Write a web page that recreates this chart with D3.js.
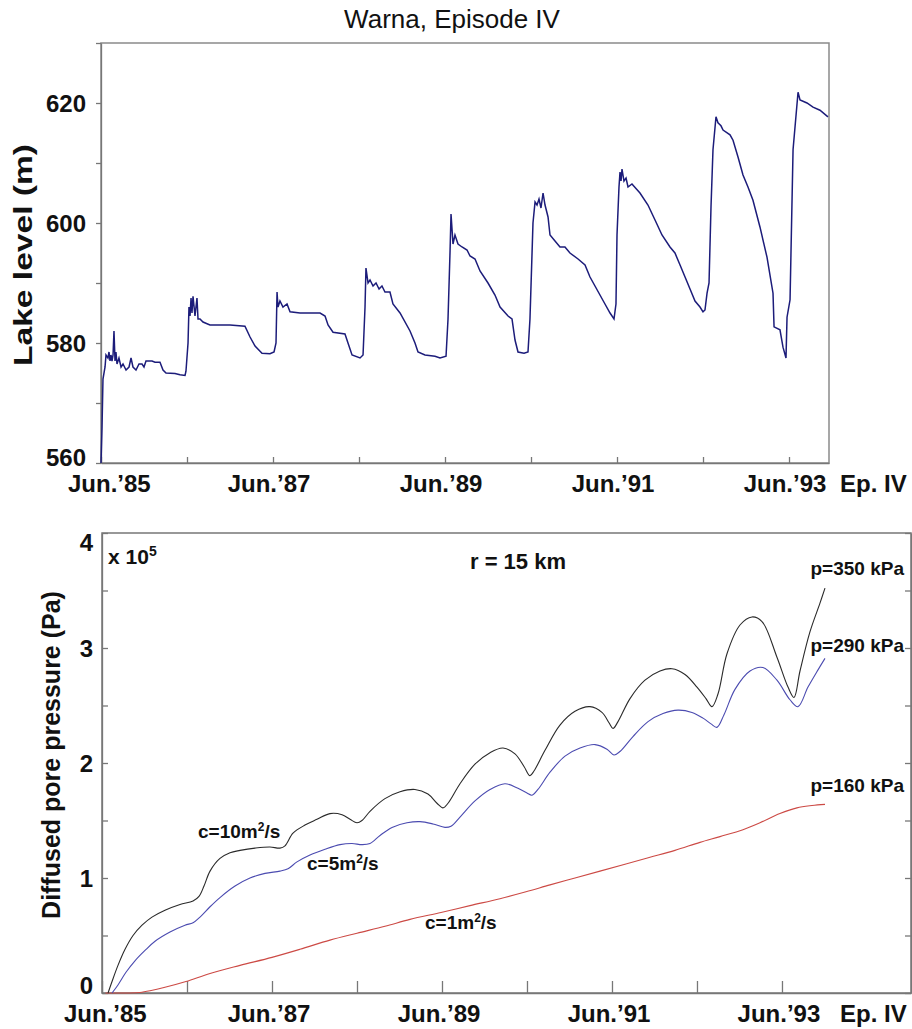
<!DOCTYPE html>
<html lang="en">
<head>
<meta charset="UTF-8">
<title>Warna, Episode IV</title>
<script src="https://cdn.jsdelivr.net/npm/d3@7"></script>
<style>
  body { margin: 0; background: #fff; }
  svg { display: block; font-family: "Liberation Sans", Arial, sans-serif; }
  .lbl { font-weight: bold; fill: #111; }
  .axis path, .axis line { stroke: #777; stroke-width: 1.3; }
</style>
</head>
<body>
<div id="chart"></div>
<script>
// top panel: lake level (m), time in years since Jun. 1985
const lakeYears = [0,0.012,0.023,0.047,0.058,0.081,0.093,0.105,0.116,0.128,
  0.14,0.151,0.163,0.174,0.186,0.209,0.233,0.256,0.291,0.326,
  0.349,0.372,0.407,0.442,0.477,0.5,0.523,0.593,0.628,0.686,
  0.721,0.756,0.86,0.919,0.977,0.988,1.012,1.023,1.035,1.047,
  1.058,1.07,1.093,1.116,1.128,1.151,1.186,1.267,1.5,1.674,
  1.733,1.791,1.872,1.965,2.012,2.035,2.047,2.058,2.081,2.116,
  2.163,2.198,2.314,2.547,2.605,2.64,2.698,2.837,2.872,2.919,
  3.012,3.047,3.07,3.081,3.105,3.128,3.163,3.198,3.233,3.267,
  3.302,3.36,3.395,3.477,3.593,3.651,3.686,3.767,3.884,3.942,
  4.012,4.035,4.058,4.07,4.093,4.116,4.151,4.198,4.256,4.291,
  4.349,4.407,4.5,4.581,4.64,4.733,4.779,4.814,4.849,4.919,
  4.965,4.988,5.023,5.047,5.07,5.093,5.116,5.14,5.163,5.198,
  5.221,5.279,5.337,5.395,5.453,5.547,5.628,5.686,5.744,5.802,
  5.86,5.919,5.965,5.988,6,6.023,6.035,6.047,6.058,6.081,
  6.105,6.128,6.174,6.267,6.36,6.442,6.523,6.616,6.674,6.733,
  6.791,6.849,6.907,6.965,7,7.023,7.047,7.07,7.093,7.116,
  7.151,7.174,7.209,7.233,7.314,7.349,7.407,7.465,7.523,7.581,
  7.663,7.744,7.814,7.826,7.895,7.93,7.965,7.977,8.012,8.047,
  8.105,8.128,8.209,8.279,8.36,8.453];
const lakeLevel = [560,566,574,576,578,577.5,578.5,577,578,577,
  578,582,577,578.5,576.5,577.5,576,576.5,575.5,576,
  577.5,576,575.5,576.5,576.5,576,577,577,576.8,576.8,
  575.5,575,574.9,574.7,574.6,575.3,580,586,584.5,587.5,
  585,587.8,584.5,587.5,584,584,583.5,583,583,582.8,
  581,579.5,578.3,578.2,578.5,580,588.5,586,587,586,
  586.5,585.2,585,585,584.5,583,581.8,581.5,580,578,
  577.5,578,586,592.5,590,590.5,589.5,590,589,589.5,
  588.5,588.5,586.5,585,582,580,578.5,578,577.8,577.5,
  577.8,584,595,601.5,596.5,598,596.5,596,595.5,594.5,
  594,592,590,588,586,584.5,584,580.5,578.5,578.3,
  578.5,584,600,603.5,603,604,602.5,605,603,601,
  598,597,596,596,595,594,593,591,589.5,588,
  586.5,585,584,586.5,598,606,608.5,607,609,607,
  607.5,606,606.5,605,603,600.5,598,596,595,593,
  591,589,587,586,585.2,585.5,588.3,590,602.7,612.2,
  617.7,616.7,616.2,615.5,614.7,613.8,611,608,606,603.8,
  599.3,594.3,588.3,582.7,582.2,579.3,577.5,584.3,587.2,612.2,
  621.8,620.5,620,619.3,618.8,617.7];

// bottom panel: diffused pore pressure (x 10^5 Pa)
const c10Years = [0.071,0.118,0.188,0.271,0.365,0.471,0.588,0.741,0.918,1.071,
  1.141,1.2,1.271,1.388,1.506,1.624,1.8,1.976,2.094,2.153,
  2.247,2.388,2.529,2.682,2.824,2.918,3.0,3.059,3.153,3.329,
  3.506,3.682,3.835,3.941,4.012,4.071,4.212,4.388,4.565,4.718,
  4.859,4.965,5.035,5.082,5.212,5.388,5.565,5.741,5.882,5.965,
  6.012,6.071,6.212,6.388,6.565,6.706,6.859,7.0,7.106,7.176,
  7.247,7.353,7.506,7.647,7.765,7.941,8.071,8.141,8.212,8.329,
  8.447,8.506];
const c10Values = [0,0.1,0.24,0.38,0.5,0.59,0.66,0.72,0.77,0.8,
  0.84,0.93,1.06,1.17,1.22,1.24,1.26,1.27,1.26,1.28,
  1.39,1.46,1.51,1.56,1.55,1.51,1.48,1.5,1.58,1.69,
  1.75,1.77,1.73,1.65,1.61,1.65,1.82,1.99,2.09,2.13,
  2.08,1.97,1.89,1.93,2.11,2.33,2.45,2.49,2.44,2.35,
  2.3,2.36,2.56,2.72,2.8,2.82,2.77,2.66,2.56,2.49,
  2.6,2.95,3.2,3.27,3.23,2.92,2.66,2.57,2.8,3.14,
  3.39,3.52];

const c5Years = [0.118,0.188,0.282,0.388,0.506,0.624,0.8,0.976,1.071,1.153,
  1.271,1.388,1.565,1.741,1.918,2.094,2.188,2.294,2.447,2.624,
  2.8,2.941,3.059,3.153,3.271,3.412,3.588,3.741,3.894,4.035,
  4.106,4.212,4.388,4.565,4.741,4.894,5.0,5.059,5.129,5.271,
  5.447,5.624,5.8,5.941,6.024,6.094,6.247,6.424,6.6,6.776,
  6.941,7.071,7.165,7.235,7.318,7.447,7.624,7.776,7.941,8.094,
  8.188,8.306,8.424,8.506];
const c5Values = [0,0.07,0.18,0.28,0.37,0.45,0.53,0.59,0.61,0.66,
  0.75,0.83,0.93,1.0,1.04,1.06,1.08,1.14,1.2,1.25,
  1.29,1.3,1.29,1.3,1.37,1.44,1.48,1.49,1.47,1.44,
  1.45,1.53,1.67,1.77,1.82,1.78,1.74,1.72,1.77,1.92,
  2.06,2.13,2.16,2.12,2.07,2.1,2.23,2.36,2.43,2.46,
  2.44,2.39,2.34,2.31,2.42,2.64,2.8,2.83,2.72,2.55,
  2.49,2.66,2.81,2.91];

const c1Years = [0.04,0.153,0.329,0.447,0.565,0.741,0.988,1.271,1.624,2.0,2.329,
  2.682,3.0,3.329,3.624,3.988,4.329,4.682,4.988,5.271,5.565,
  5.859,6.153,6.447,6.741,7.035,7.271,7.541,7.741,7.976,8.176,
  8.353,8.506];
const c1Values = [0,0,0,0.005,0.02,0.05,0.1,0.17,0.24,0.31,0.38,
  0.46,0.52,0.58,0.64,0.7,0.76,0.82,0.88,0.94,1.0,
  1.06,1.12,1.18,1.24,1.31,1.36,1.42,1.48,1.56,1.61,
  1.63,1.64];

const dateLabels = ["Jun.\u201985", "Jun.\u201987", "Jun.\u201989", "Jun.\u201991", "Jun.\u201993"];
const lakeTicks = [560, 580, 600, 620];
const pressTicks = [0, 1, 2, 3, 4];

const W = 912, H = 1029;
const svg = d3.select("#chart").append("svg").attr("width", W).attr("height", H);
svg.append("rect").attr("width", W).attr("height", H).attr("fill", "#fff");

// ---------- top panel ----------
const xTop = d3.scaleLinear().domain([0, 8.465]).range([101, 829]);
const yTop = d3.scaleLinear().domain([560, 630]).range([463, 43]);

svg.append("text").attr("x", 452).attr("y", 28).attr("text-anchor", "middle")
  .style("font-size", "26px").attr("fill", "#111").text("Warna, Episode IV");

svg.append("rect").attr("x", 101).attr("y", 43).attr("width", 728).attr("height", 420)
  .attr("fill", "none").attr("stroke", "#8a8a8a").attr("stroke-width", 1.5);

svg.append("g").attr("class", "axis").attr("transform", `translate(0,${yTop(560)})`)
  .call(d3.axisBottom(xTop).tickValues(d3.range(0, 9)).tickSize(-6).tickSizeOuter(0).tickFormat(""));
svg.append("g").attr("class", "axis").attr("transform", `translate(${xTop(0)},0)`)
  .call(d3.axisLeft(yTop).tickValues(d3.range(560, 631, 10)).tickSize(5).tickSizeOuter(0).tickFormat(""));

svg.append("path")
  .datum(d3.zip(lakeYears, lakeLevel))
  .attr("fill", "none").attr("stroke", "#1c1c7a").attr("stroke-width", 1.5)
  .attr("d", d3.line().x(d => xTop(d[0])).y(d => yTop(d[1])));

svg.selectAll("text.ly").data(lakeTicks).join("text").attr("class", "lbl ly")
  .attr("x", 86).attr("y", d => yTop(d) + 9 - (d === 560 ? 6 : 0))
  .attr("text-anchor", "end").style("font-size", "24px").text(d => d);

svg.selectAll("text.lx").data(dateLabels).join("text").attr("class", "lbl lx")
  .attr("x", (d, i) => i === 0 ? xTop(0) - 33 : xTop(i * 2) - 4)
  .attr("y", 492).attr("text-anchor", (d, i) => i === 0 ? "start" : "middle")
  .style("font-size", "24px").text(d => d);
svg.append("text").attr("class", "lbl").attr("x", 840).attr("y", 492)
  .style("font-size", "24px").text("Ep. IV");

svg.append("text").attr("class", "lbl")
  .attr("transform", "translate(32,255) rotate(-90)").attr("text-anchor", "middle")
  .attr("textLength", 222).attr("lengthAdjust", "spacingAndGlyphs")
  .style("font-size", "25px").text("Lake level (m)");

// ---------- bottom panel ----------
const xBot = d3.scaleLinear().domain([0, 9.518]).range([102, 911]);
const yBot = d3.scaleLinear().domain([0, 4]).range([993, 533]);

svg.append("rect").attr("x", 102).attr("y", 533).attr("width", 809).attr("height", 460)
  .attr("fill", "none").attr("stroke", "#777").attr("stroke-width", 1.5);

svg.append("g").attr("class", "axis").attr("transform", `translate(0,${yBot(0)})`)
  .call(d3.axisBottom(xBot).tickValues(d3.range(0, 9)).tickSize(-12).tickSizeOuter(0).tickFormat(""));
svg.append("g").attr("class", "axis").attr("transform", `translate(${xBot(0)},0)`)
  .call(d3.axisLeft(yBot).tickValues(d3.range(0, 4.01, 0.5)).tickSize(-6).tickSizeOuter(0).tickFormat(""));
svg.append("g").attr("class", "axis").attr("transform", `translate(${xBot(9.518)},0)`)
  .call(d3.axisRight(yBot).tickValues(d3.range(0, 4.01, 0.5)).tickSize(-6).tickSizeOuter(0).tickFormat(""));

const pLine = d3.line().curve(d3.curveCatmullRom.alpha(0.5)).x(d => xBot(d[0])).y(d => yBot(d[1]));
const series = [
  { years: c1Years, values: c1Values, color: "#cc4a45" },
  { years: c5Years, values: c5Values, color: "#4b4bb0" },
  { years: c10Years, values: c10Values, color: "#2a2a2a" }
];
svg.selectAll("path.pp").data(series).join("path").attr("class", "pp")
  .attr("fill", "none").attr("stroke", d => d.color).attr("stroke-width", 1.1)
  .attr("d", d => pLine(d3.zip(d.years, d.values)));

svg.selectAll("text.py").data(pressTicks).join("text").attr("class", "lbl py")
  .attr("x", 93).attr("y", d => yBot(d) + 9 + (d === 0 ? -8 : d === 4 ? 9 : 0))
  .attr("text-anchor", "end").style("font-size", "24px").text(d => d);

svg.selectAll("text.px").data(dateLabels).join("text").attr("class", "lbl px")
  .attr("x", (d, i) => i === 0 ? xBot(0) - 38 : xBot(i * 2) - 3)
  .attr("y", 1022).attr("text-anchor", (d, i) => i === 0 ? "start" : "middle")
  .style("font-size", "24px").text(d => d);
svg.append("text").attr("class", "lbl").attr("x", 840).attr("y", 1022)
  .style("font-size", "24px").text("Ep. IV");

svg.append("text").attr("class", "lbl")
  .attr("transform", "translate(60,755) rotate(-90)").attr("text-anchor", "middle")
  .style("font-size", "25px").text("Diffused pore pressure (Pa)");

const exp = svg.append("text").attr("class", "lbl").attr("x", 108).attr("y", 564).style("font-size", "21px");
exp.append("tspan").text("x 10");
exp.append("tspan").attr("dy", -8).style("font-size", "14px").text("5");

svg.append("text").attr("class", "lbl").attr("x", 518).attr("y", 569).attr("text-anchor", "middle")
  .style("font-size", "22px").text("r = 15 km");

const pLabels = [["p=350 kPa", 575], ["p=290 kPa", 652], ["p=160 kPa", 792]];
svg.selectAll("text.pl").data(pLabels).join("text").attr("class", "lbl pl")
  .attr("x", 904).attr("y", d => d[1]).attr("text-anchor", "end")
  .style("font-size", "19px").text(d => d[0]);

const cLabels = [["c=10m", "/s", 198, 838], ["c=5m", "/s", 307, 870], ["c=1m", "/s", 425, 929]];
cLabels.forEach(c => {
  const t = svg.append("text").attr("class", "lbl").attr("x", c[2]).attr("y", c[3]).style("font-size", "19px");
  t.append("tspan").text(c[0]);
  t.append("tspan").attr("dy", -7).style("font-size", "12px").text("2");
  t.append("tspan").attr("dy", 7).text(c[1]);
});
</script>
</body>
</html>
